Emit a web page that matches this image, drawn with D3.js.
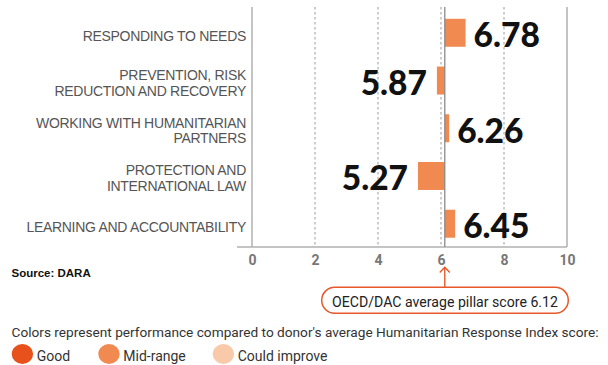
<!DOCTYPE html>
<html>
<head>
<meta charset="utf-8">
<script src="https://cdn.jsdelivr.net/npm/d3@7"></script>
<style>
  html, body { margin: 0; padding: 0; background: #fff; }
  svg { display: block; }
</style>
</head>
<body>
<svg id="chart" width="608" height="365"></svg>
<script>
// ---- data ----
const categories = [
  ["RESPONDING TO NEEDS"],
  ["PREVENTION, RISK", "REDUCTION AND RECOVERY"],
  ["WORKING WITH HUMANITARIAN", "PARTNERS"],
  ["PROTECTION AND", "INTERNATIONAL LAW"],
  ["LEARNING AND ACCOUNTABILITY"]
];
const values = [6.78, 5.87, 6.26, 5.27, 6.45];
const valueLabels = ["6.78", "5.87", "6.26", "5.27", "6.45"];
const ratings = ["Mid-range", "Mid-range", "Mid-range", "Mid-range", "Mid-range"];
const averageScore = 6.12;
const tickValues = [0, 2, 4, 6, 8, 10];
const gridValues = [2, 4, 6, 8];
const legendItems = ["Good", "Mid-range", "Could improve"];
const legendColors = ["#e8501c", "#f08a50", "#f8caa9"];
const sourceText = "Source: DARA";
const noteText = "OECD/DAC average pillar score 6.12";
const legendTitle = "Colors represent performance compared to donor's average Humanitarian Response Index score:";

// ---- layout ----
const svg = d3.select("#chart");
const plotTop = 7, plotBottom = 247;
const x = d3.scaleLinear().domain([0, 10]).range([252, 567]);
const keys = categories.map((c, i) => i);
const y = d3.scaleBand().domain(keys).range([8, 248.5]).paddingInner(0.414).paddingOuter(0.226);
const color = d3.scaleOrdinal().domain(legendItems).range(legendColors);
const orange = "#e8582a";
const labelFont = "Roboto, 'Liberation Sans', Arial, sans-serif";
const catFont = "'Liberation Sans', Arial, sans-serif";

// fit a text's natural width to a target by adjusting font-size
function fitWidth(sel, target, baseSize) {
  const node = sel.node();
  const w = node.getComputedTextLength();
  if (w > 0) sel.attr("font-size", baseSize * target / w);
}

// grid lines (dashed)
svg.append("g").selectAll("line").data(gridValues).join("line")
  .attr("x1", d => x(d)).attr("x2", d => x(d))
  .attr("y1", plotTop).attr("y2", plotBottom)
  .attr("stroke", "#9a9a9a").attr("stroke-width", 1)
  .attr("stroke-dasharray", "2.5,2.5");

// left & right boundary lines
svg.append("g").selectAll("line").data([0, 10]).join("line")
  .attr("x1", d => x(d)).attr("x2", d => x(d))
  .attr("y1", plotTop).attr("y2", plotBottom)
  .attr("stroke", "#b0b0b0").attr("stroke-width", 1.5);

// bottom axis line
svg.append("line")
  .attr("x1", x(0) - 15).attr("x2", x(10))
  .attr("y1", plotBottom).attr("y2", plotBottom)
  .attr("stroke", "#b0b0b0").attr("stroke-width", 1.5);

// bottom axis tick labels via d3 axis
const axis = d3.axisBottom(x).tickValues(tickValues).tickSize(0).tickPadding(0).tickFormat(d3.format("d"));
const axG = svg.append("g").attr("transform", `translate(0, ${plotBottom})`).call(axis);
axG.select(".domain").remove();
axG.selectAll("text")
  .attr("y", 18).attr("dy", null)
  .attr("font-family", labelFont).attr("font-weight", 700)
  .attr("font-size", 14).attr("fill", "#777");

// bars
svg.append("g").selectAll("rect").data(values).join("rect")
  .attr("x", d => Math.min(x(d), x(averageScore)))
  .attr("width", d => Math.abs(x(d) - x(averageScore)))
  .attr("y", (d, i) => y(i))
  .attr("height", y.bandwidth())
  .attr("fill", (d, i) => color(ratings[i]));

// average baseline
svg.append("line")
  .attr("x1", x(averageScore)).attr("x2", x(averageScore))
  .attr("y1", plotTop).attr("y2", plotBottom)
  .attr("stroke", "#8a8a8a").attr("stroke-width", 1.3);

// value labels
svg.append("g").selectAll("text").data(values).join("text")
  .attr("x", d => d >= averageScore ? x(d) + 8 : x(d) - 10)
  .attr("y", (d, i) => y(i) + y.bandwidth() + 0.5)
  .attr("text-anchor", d => d >= averageScore ? "start" : "end")
  .attr("font-family", "Lato, 'Liberation Sans', Arial, sans-serif")
  .attr("font-weight", 900)
  .attr("font-size", 33.5)
  .attr("fill", "#111")
  .text((d, i) => valueLabels[i]);

// category labels (one text element per line)
const catG = svg.append("g");
categories.forEach((lines, i) => {
  const c = y(i) + y.bandwidth() / 2;
  lines.forEach((ln, j) => {
    const base = lines.length === 1 ? c + 8 : c - 0.5 + j * 15.5;
    catG.append("text")
      .attr("x", 246).attr("y", base)
      .attr("text-anchor", "end")
      .attr("font-family", catFont)
      .attr("font-size", 14)
      .attr("letter-spacing", -0.3)
      .attr("fill", "#555")
      .text(ln);
  });
});

// source
svg.append("text")
  .attr("x", 11.5).attr("y", 276.7)
  .attr("font-family", "'Liberation Sans', Arial, sans-serif")
  .attr("font-weight", 700).attr("font-size", 11.5)
  .attr("fill", "#111")
  .text(sourceText);

// arrow to pill
const ax = x(averageScore);
svg.append("line")
  .attr("x1", ax).attr("x2", ax).attr("y1", 267.5).attr("y2", 287.3)
  .attr("stroke", orange).attr("stroke-width", 1.4);
svg.append("path")
  .attr("d", `M${ax - 5},${272.5} L${ax},${267.3} L${ax + 5},${272.5}`)
  .attr("fill", "none").attr("stroke", orange).attr("stroke-width", 1.4);

// pill
svg.append("rect")
  .attr("x", 321.7).attr("y", 287.3).attr("width", 246.6).attr("height", 26)
  .attr("rx", 13).attr("ry", 13)
  .attr("fill", "#fff").attr("stroke", orange).attr("stroke-width", 1.5);
const note = svg.append("text")
  .attr("x", 445).attr("y", 307)
  .attr("text-anchor", "middle")
  .attr("font-family", labelFont).attr("font-size", 14.5)
  .attr("fill", "#222")
  .text(noteText);
fitWidth(note, 226, 14.5);

// legend title
const lt = svg.append("text")
  .attr("x", 11.5).attr("y", 336.7)
  .attr("font-family", labelFont).attr("font-size", 14)
  .attr("fill", "#333")
  .text(legendTitle);
fitWidth(lt, 588, 14);

// legend items
const legendX = [11.7, 98.3, 212.7];
const lg = svg.append("g").selectAll("g").data(legendItems).join("g")
  .attr("transform", (d, i) => `translate(${legendX[i]}, 0)`);
lg.append("ellipse")
  .attr("cx", 10.7).attr("cy", 354).attr("rx", 10.7).attr("ry", 10)
  .attr("fill", d => color(d));
lg.append("text")
  .attr("x", 25).attr("y", 361)
  .attr("font-family", labelFont).attr("font-size", 14)
  .attr("fill", "#333")
  .text(d => d);
</script>
</body>
</html>
